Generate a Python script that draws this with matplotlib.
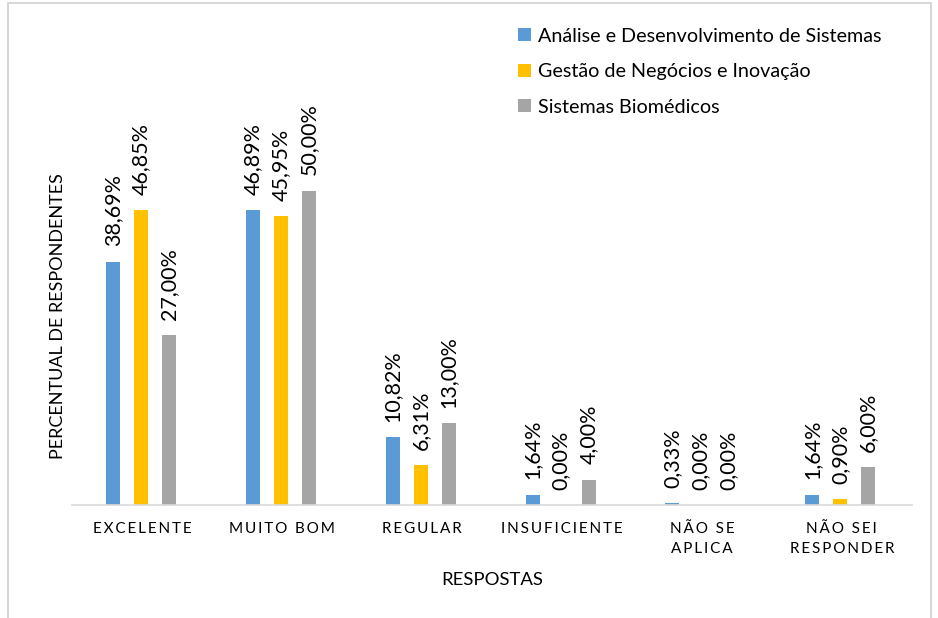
import matplotlib.pyplot as plt
import matplotlib
import numpy as np
from matplotlib.patches import Rectangle

matplotlib.rcParams['font.family'] = ['Lato', 'DejaVu Sans']

categorias = ["EXCELENTE", "MUITO BOM", "REGULAR", "INSUFICIENTE", "NÃO SE\nAPLICA", "NÃO SEI\nRESPONDER"]
series = ["Análise e Desenvolvimento de Sistemas", "Gestão de Negócios e Inovação", "Sistemas Biomédicos"]
ads = [38.69, 46.89, 10.82, 1.64, 0.33, 1.64]
gni = [46.85, 45.95, 6.31, 0.00, 0.00, 0.90]
sb = [27.00, 50.00, 13.00, 4.00, 0.00, 6.00]
cores = ["#5B9BD5", "#FFC000", "#A5A5A5"]


def espacar(txt):
    # imita o espaçamento entre letras do Excel
    return "\n".join("\u2009".join(linha) for linha in txt.split("\n"))


fig = plt.figure(figsize=(9.38, 6.18), dpi=100)
fig.patches.append(Rectangle((0.008, -0.01), 0.985, 1.005, transform=fig.transFigure,
                             fill=False, edgecolor="#D0D0D0", linewidth=1.2))
ax = fig.add_axes([0.077, 0.183, 0.895, 0.785])

x = np.arange(len(categorias))
larg = 0.1
desloc = [-0.21, -0.01, 0.19]
for valores, nome, cor, d in zip([ads, gni, sb], series, cores, desloc):
    barras = ax.bar(x + d, valores, larg, color=cor, label=nome)
    for b, v in zip(barras, valores):
        ax.annotate(f"{v:.2f}%".replace(".", ","), (b.get_x() + b.get_width() / 2, v),
                    xytext=(0, 11), textcoords="offset points", rotation=90,
                    ha="center", va="bottom", fontsize=15.5, color="#000000")

ax.set_xlim(-0.5, 5.5)
ax.set_ylim(0, 77.2)
ax.set_xticks(x)
ax.set_xticklabels([espacar(c) for c in categorias], fontsize=11, linespacing=1.55)
ax.tick_params(axis="x", length=0, pad=12)
ax.set_yticks([])
for lado in ["left", "right", "top"]:
    ax.spines[lado].set_visible(False)
ax.spines["bottom"].set_color("#D9D9D9")
ax.spines["bottom"].set_linewidth(1.2)

ax.set_ylabel("PERCENTUAL DE RESPONDENTES", fontsize=13)
ax.yaxis.set_label_coords(-0.008, 0.39)
ax.set_xlabel("RESPOSTAS", fontsize=13.3, labelpad=12)

ax.legend(loc="upper left", bbox_to_anchor=(0.51, 1.02), frameon=False, fontsize=14.2,
          handlelength=0.65, handleheight=0.65, handletextpad=0.35, labelspacing=0.93)

plt.savefig("out.png", dpi=100)
